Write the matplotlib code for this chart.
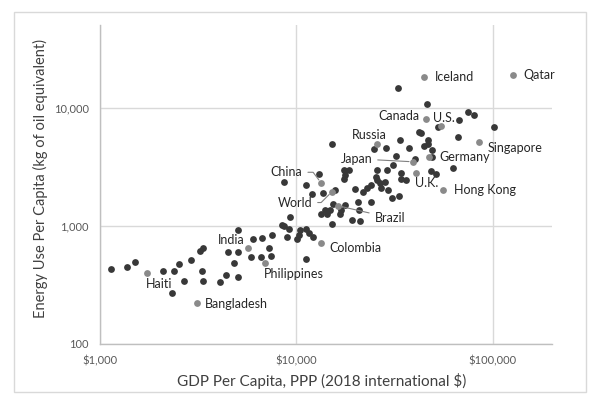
import matplotlib
matplotlib.use("Agg")
import matplotlib.pyplot as plt
from matplotlib.patches import Rectangle
from matplotlib.ticker import FixedLocator, FuncFormatter, NullLocator

plt.rcParams['font.family'] = ['Lato', 'DejaVu Sans']

# highlighted countries (GDP per capita PPP $, energy use kg oil eq. per capita)
names = ["Iceland", "Qatar", "Canada", "U.S.", "Russia", "Japan", "Germany",
         "Singapore", "U.K.", "Hong Kong", "China", "World", "Brazil",
         "Colombia", "India", "Philippines", "Haiti", "Bangladesh"]
name_gdp = [44700, 126600, 45600, 54600, 25700, 39300, 47400,
            85000, 40400, 55700, 13400, 15200, 16200,
            13400, 5640, 6930, 1730, 3110]
name_energy = [18000, 18900, 8000, 7000, 4970, 3480, 3830,
               5150, 2820, 1990, 2290, 1950, 1480,
               720, 646, 484, 400, 223]

# all other countries
other_gdp = [32860, 46160, 74690, 80420, 67440, 101400, 52400, 41830, 43170,
             66420, 46490, 46870, 44850, 48850, 33550, 15150, 28710, 24880,
             37290, 32280, 40160, 49130, 62320, 17440, 18620, 17650, 17440,
             25620, 29080, 30840, 48150, 51300, 34160, 34040, 36070, 13050,
             8679, 11210, 12020, 13720, 15790, 19910, 21870, 23000, 23930,
             25680, 26480, 28310, 26920, 29220, 25470, 30620, 33360, 20550,
             23930, 20800, 15320, 14850, 14000, 13360, 14290, 16700, 17710,
             16890, 19220, 21110, 15150, 9235, 8408, 9127, 8689, 10440,
             11250, 11570, 12210, 10290, 10120, 8935, 11210, 5018, 5983,
             6688, 7538, 4473, 5018, 3213, 3329, 7260, 5858, 6588, 7460,
             4815, 2908, 2517, 2102, 2390, 1138, 1378, 1508, 3309, 4369,
             5047, 4087, 3359, 2688, 2335]
other_energy = [14550, 10710, 9106, 8641, 7834, 6887, 6887, 6221, 6041,
                5620, 5321, 4970, 4715, 4361, 5321, 4902, 4597, 4439,
                4597, 3916, 3686, 3803, 3111, 2951, 2951, 2713, 2494,
                2951, 2951, 3253, 2893, 2767, 2804, 2494, 2446, 2750,
                2343, 2201, 1865, 1902, 1997, 2036, 1920, 2093, 2201,
                2427, 2321, 2366, 2105, 2024, 2573, 1708, 1776, 1601,
                1592, 1369, 1539, 1369, 1351, 1267, 1259, 1259, 1510,
                1369, 1126, 1090, 1028, 1190, 1006, 940, 988, 914,
                940, 869, 797, 840, 773, 804, 526, 927, 767,
                788, 829, 605, 605, 609, 648, 652, 540, 540, 550,
                484, 516, 477, 414, 414, 427, 452, 496, 414, 385,
                368, 336, 342, 340, 271]

x_ticks = [1000, 10000, 100000]
y_ticks = [100, 1000, 10000]


def main():
    fig = plt.figure(figsize=(5.89, 3.95), dpi=100)
    ax = fig.add_axes([100 / 589, 51 / 395, 452 / 589, 319 / 395])

    # light frame around the whole chart
    fig.patches.append(Rectangle((14 / 589, 3 / 395), 572 / 589, 380 / 395,
                                 transform=fig.transFigure, fill=False,
                                 edgecolor='#d9d9d9', lw=1))

    ax.set_xscale('log')
    ax.set_yscale('log')
    ax.set_xlim(1000, 200000)
    ax.set_ylim(100, 50000)

    ax.scatter(other_gdp, other_energy, s=24, color='#383838', linewidths=0, zorder=3)
    ax.scatter(name_gdp, name_energy, s=24, color='#8a8a8a', linewidths=0, zorder=3)

    # label placement: offset in pixels, horizontal alignment, leader connection
    offsets = {
        "Iceland": (11, 0, 'left', None),
        "Qatar": (10, 0, 'left', None),
        "Canada": (-6, 3, 'right', None),
        "U.S.": (-8, 8, 'left', None),
        "Russia": (-8, 9, 'center', None),
        "Japan": (-41, 3, 'right', 'arc3'),
        "Germany": (10, 0, 'left', None),
        "Singapore": (9, -6, 'left', None),
        "U.K.": (-1, -10, 'left', None),
        "Hong Kong": (11, 0, 'left', None),
        "China": (-19, 11, 'right', 'angle,angleA=0,angleB=-53,rad=0'),
        "World": (-20, -11, 'right', 'angle,angleA=0,angleB=45,rad=0'),
        "Brazil": (37, -12, 'left', 'arc3'),
        "Colombia": (8, -5, 'left', None),
        "India": (-3, 8, 'right', None),
        "Philippines": (-1, -11, 'left', None),
        "Haiti": (-1, -11, 'left', None),
        "Bangladesh": (8, -1, 'left', None),
    }
    for name, gx, ey in zip(names, name_gdp, name_energy):
        dx, dy, ha, conn = offsets[name]
        arrow = None
        if conn:
            arrow = dict(arrowstyle='-', color='#808080', lw=0.8,
                         shrinkA=2, shrinkB=3, connectionstyle=conn)
        ax.annotate(name, xy=(gx, ey), xytext=(dx, dy), textcoords='offset pixels',
                    ha=ha, va='center', fontsize=9, color='#262626',
                    arrowprops=arrow, zorder=4)

    ax.xaxis.set_major_locator(FixedLocator(x_ticks))
    ax.yaxis.set_major_locator(FixedLocator(y_ticks))
    ax.xaxis.set_minor_locator(NullLocator())
    ax.yaxis.set_minor_locator(NullLocator())
    ax.xaxis.set_major_formatter(FuncFormatter(lambda v, p: '${:,.0f}'.format(v)))
    ax.yaxis.set_major_formatter(FuncFormatter(lambda v, p: '{:,.0f}'.format(v)))
    ax.tick_params(axis='both', length=0, labelsize=8, labelcolor='#595959')
    ax.tick_params(axis='x', pad=8)
    ax.tick_params(axis='y', pad=8)

    ax.grid(True, color='#d9d9d9', lw=1)
    ax.set_axisbelow(True)
    for side in ['top', 'right']:
        ax.spines[side].set_visible(False)
    for side in ['left', 'bottom']:
        ax.spines[side].set_color('#bfbfbf')
        ax.spines[side].set_linewidth(1)

    ax.set_xlabel('GDP Per Capita, PPP (2018 international $)', fontsize=11, color='#404040')
    ax.set_ylabel('Energy Use Per Capita (kg of oil equivalent)', fontsize=10.5, color='#404040')
    ax.xaxis.set_label_coords(0.49, -0.09)
    ax.yaxis.set_label_coords(-0.115, 0.52)

    fig.savefig('out.png', dpi=100)


if __name__ == "__main__":
    main()
